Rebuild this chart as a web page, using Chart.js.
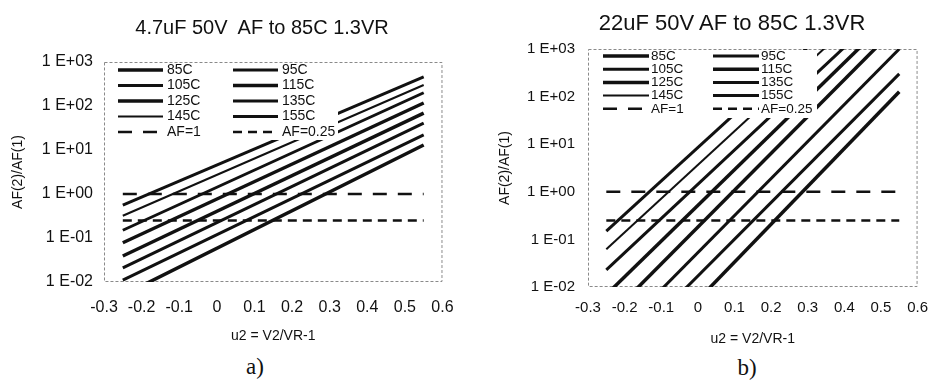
<!DOCTYPE html>
<html>
<head>
<meta charset="utf-8">
<script src="https://cdn.jsdelivr.net/npm/chart.js@4.4.1/dist/chart.umd.min.js"></script>
<style>
  body { margin: 0; background: #fff; width: 940px; height: 381px; position: relative; overflow: hidden;
         font-family: "Liberation Sans", Arial, sans-serif; color: #111; }
  .panel { position: absolute; top: 0; width: 470px; height: 350px; }
  .title { position: absolute; line-height: 24px; white-space: nowrap; transform: translateX(-50%); }
  .tag { position: absolute; font-family: "Liberation Serif", "Times New Roman", serif; font-size: 23px;
         line-height: 26px; transform: translateX(-50%); }
</style>
</head>
<body>
<div class="panel" style="left:0"><canvas id="chartA"></canvas></div>
<div class="panel" style="left:470px"><canvas id="chartB"></canvas></div>
<div class="title" style="left:262px; top:15px; font-size:20px">4.7uF 50V&nbsp; AF to 85C 1.3VR</div>
<div class="title" style="left:732px; top:11px; font-size:22px">22uF 50V AF to 85C 1.3VR</div>
<div class="tag" style="left:255px; top:354px">a)</div>
<div class="tag" style="left:747px; top:355px">b)</div>
<script>
// line end points (u2) and AF values
const xEnds = [-0.25, 0.55];
const tempLabels = ['85C', '95C', '105C', '115C', '125C', '135C', '145C', '155C'];
const aStart = [0.005, 0.011, 0.021, 0.039, 0.078, 0.15, 0.32, 0.56];
const aEnd = [13, 22, 41, 69, 117, 200, 300, 460];
const bStart = [0.000055, 0.0002, 0.0006, 0.0021, 0.0069, 0.023, 0.062, 0.15];
const bEnd = [126, 300, 1000, 3300, 6900, 13000, 29000, 62000];
const refLabels = ['AF=1', 'AF=0.25'];
const refValues = [1, 0.25];

const xTicks = [-0.3, -0.2, -0.1, 0, 0.1, 0.2, 0.3, 0.4, 0.5, 0.6];
const xTickLabels = ['-0.3', '-0.2', '-0.1', '0', '0.1', '0.2', '0.3', '0.4', '0.5', '0.6'];
const yTicks = [0.01, 0.1, 1, 10, 100, 1000];
const yTickLabels = ['1 E-02', '1 E-01', '1 E+00', '1 E+01', '1 E+02', '1 E+03'];

// styles
const lineWidths = [3.5, 3, 3, 3.5, 3.5, 3, 2, 3];
const refDash = [[14, 11], [9, 6]];
const FONT = '"Liberation Sans", Arial, sans-serif';

Chart.defaults.font.family = FONT;
Chart.defaults.color = '#111';

function buildDatasets(startVals, endVals) {
  const ds = tempLabels.map((lab, i) => ({
    label: lab,
    data: xEnds.map((x, j) => ({ x: x, y: j === 0 ? startVals[i] : endVals[i] })),
    borderColor: '#111',
    borderWidth: lineWidths[i],
    borderDash: [],
    clip: 0
  }));
  refLabels.forEach((lab, i) => {
    ds.push({
      label: lab,
      data: xEnds.map(x => ({ x: x, y: refValues[i] })),
      borderColor: '#111',
      borderWidth: 2.5,
      borderDash: refDash[i],
      clip: 0
    });
  });
  return ds;
}

// dotted frame round the plot area
const frame = {
  id: 'frame',
  beforeDatasetsDraw(chart) {
    const { ctx, chartArea: a } = chart;
    ctx.save();
    ctx.strokeStyle = '#8a8a8a';
    ctx.lineWidth = 1;
    ctx.setLineDash([3, 2]);
    ctx.strokeRect(a.left + 0.5, a.top + 0.5, a.width - 1, a.height - 1);
    ctx.restore();
  }
};

// two-column legend inside the plot, on a white box that hides the lines
const gridLegend = {
  id: 'gridLegend',
  afterDatasetsDraw(chart, args, o) {
    const ctx = chart.ctx, a = chart.chartArea;
    ctx.save();
    ctx.fillStyle = '#fff';
    ctx.fillRect(a.left + 1, a.top + 1, o.boxRight - a.left - 1, o.boxBottom - a.top - 1);
    ctx.font = o.font;
    ctx.textBaseline = 'middle';
    ctx.fillStyle = '#111';
    chart.data.datasets.forEach((d, i) => {
      const x = o.cols[i % 2];
      const y = o.y0 + Math.floor(i / 2) * o.rowH;
      ctx.strokeStyle = d.borderColor;
      ctx.lineWidth = d.borderWidth;
      ctx.setLineDash(d.borderDash || []);
      ctx.beginPath();
      ctx.moveTo(x, y);
      ctx.lineTo(x + o.sample, y);
      ctx.stroke();
      ctx.fillText(d.label, x + o.sample + o.gap, y);
    });
    ctx.restore();
  }
};

function makePanel(id, startVals, endVals, g) {
  return new Chart(document.getElementById(id), {
    type: 'scatter',
    data: { datasets: buildDatasets(startVals, endVals) },
    plugins: [frame, gridLegend],
    options: {
      responsive: true,
      maintainAspectRatio: false,
      animation: false,
      showLine: true,
      elements: { point: { radius: 0 }, line: { tension: 0 } },
      layout: { padding: { top: g.padTop, right: g.padRight, left: 0, bottom: 0 }, autoPadding: false },
      plugins: {
        legend: { display: false },
        title: { display: false },
        tooltip: { enabled: false },
        gridLegend: g.legend
      },
      scales: {
        x: {
          type: 'linear',
          min: -0.3,
          max: 0.6,
          afterBuildTicks: s => { s.ticks = xTicks.map(v => ({ value: v })); },
          afterFit: s => { s.height = g.xHeight; },
          grid: { display: false, drawTicks: false },
          border: { display: false },
          ticks: {
            color: '#111', autoSkip: false, maxRotation: 0,
            font: { size: g.tickFont }, padding: g.xTickPad,
            callback: (v, i) => xTickLabels[i]
          },
          title: {
            display: true, text: 'u2 = V2/VR-1', color: '#111',
            font: { size: 14 }, padding: { top: 0, bottom: g.xTitlePad }
          }
        },
        y: {
          type: 'logarithmic',
          min: 0.01,
          max: 1000,
          afterBuildTicks: s => { s.ticks = yTicks.map(v => ({ value: v })); },
          afterFit: s => { s.width = g.yWidth; },
          grid: { display: false, drawTicks: false },
          border: { display: false },
          ticks: {
            color: '#111', autoSkip: false,
            font: { size: g.tickFont }, padding: g.yTickPad,
            callback: (v, i) => yTickLabels[i]
          },
          title: {
            display: true, text: 'AF(2)/AF(1)', color: '#111',
            font: { size: 14 }, padding: { top: g.yTitlePad, bottom: 0 }
          }
        }
      }
    }
  });
}

makePanel('chartA', aStart, aEnd, {
  padTop: 62, padRight: 26, yWidth: 104, xHeight: 68,
  tickFont: 16, xTickPad: 16.4, yTickPad: 11, yTitlePad: 10, xTitlePad: 5,
  legend: { cols: [118, 233], y0: 70, rowH: 15.5, sample: 45, gap: 4,
            font: '14px ' + FONT, boxRight: 338, boxBottom: 140 }
});

makePanel('chartB', bStart, bEnd, {
  padTop: 49, padRight: 9, yWidth: 118, xHeight: 63,
  tickFont: 15, xTickPad: 12, yTickPad: 13, yTitlePad: 27, xTitlePad: 2,
  legend: { cols: [133, 243], y0: 56, rowH: 13.2, sample: 46, gap: 2,
            font: '13.5px ' + FONT, boxRight: 347, boxBottom: 118 }
});
</script>
</body>
</html>
